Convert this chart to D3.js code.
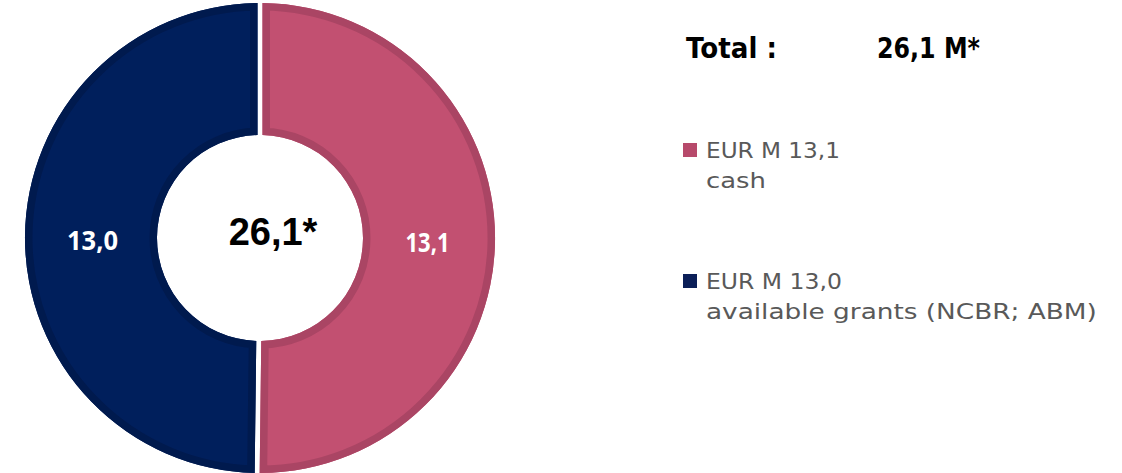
<!DOCTYPE html>
<html>
<head>
<meta charset="utf-8">
<script src="https://cdn.jsdelivr.net/npm/d3@7"></script>
<style>
  html, body { margin: 0; padding: 0; background: #ffffff; }
  svg { display: block; }
</style>
</head>
<body>
<svg id="chart" width="1122" height="473"></svg>
<script>
// Funding split (EUR M)
const categories = ["cash", "available grants (NCBR; ABM)"];
const values = [13.1, 13.0];
const valueLabels = ["13,1", "13,0"];
const legendHeads = ["EUR M 13,1", "EUR M 13,0"];
const totalLabel = "26,1*";
const totalHeader = ["Total :", "26,1 M*"];

const fills = ["#C25071", "#001F5C"];
const edges = ["#AA4564", "#001A4E"];
const swatches = ["#B74A6B", "#0B1F58"];

const svg = d3.select("#chart");
const cx = 260, cy = 238;
const outerR = 235, innerR = 103;
const gap = 5;

const pie = d3.pie().sort(null).value(d => d)(values);
const arc = d3.arc()
  .innerRadius(innerR)
  .outerRadius(outerR)
  .padRadius(outerR)
  .padAngle(gap / outerR);

const defs = svg.append("defs");
const g = svg.append("g").attr("transform", `translate(${cx},${cy})`);

pie.forEach((p, i) => {
  defs.append("clipPath").attr("id", "slice-clip-" + i)
    .append("path").attr("d", arc(p));
  const slice = g.append("g");
  slice.append("path")
    .attr("d", arc(p))
    .attr("fill", fills[i]);
  // darker rim drawn inside each slice
  slice.append("path")
    .attr("d", arc(p))
    .attr("fill", "none")
    .attr("stroke", edges[i])
    .attr("stroke-width", 15)
    .attr("clip-path", `url(#slice-clip-${i})`);
});

// place a text element at (x, y), stretched horizontally to a given width
function placeText(sel, x, y, target) {
  const len = sel.node().getComputedTextLength();
  const s = target / len;
  sel.attr("x", 0).attr("y", 0)
    .attr("transform", `translate(${x},${y}) scale(${s},1)`);
}

// value labels at slice centroids
const labelArc = d3.arc().innerRadius(innerR).outerRadius(outerR - 3);
const labelWidths = [44, 51];
g.selectAll("text.val")
  .data(pie)
  .join("text")
  .attr("class", "val")
  .attr("text-anchor", "middle")
  .attr("font-family", "'Open Sans', sans-serif")
  .attr("font-weight", 700)
  .attr("font-size", 27)
  .attr("fill", "#ffffff")
  .text((d, i) => valueLabels[i])
  .each(function (d, i) {
    const [x, y] = labelArc.centroid(d);
    placeText(d3.select(this), x, y + 13, labelWidths[i]);
  });

// total in the hole
g.append("text")
  .attr("x", 13)
  .attr("y", 7)
  .attr("text-anchor", "middle")
  .attr("font-family", "'Liberation Sans', Arial, sans-serif")
  .attr("font-weight", 700)
  .attr("font-size", 38)
  .attr("fill", "#000000")
  .text(totalLabel);

// header line
const head = svg.append("g");
const headX = [686, 877];
const headW = [91, 103];
totalHeader.forEach((t, i) => {
  const el = head.append("text")
    .attr("font-family", "'DejaVu Sans', sans-serif")
    .attr("font-weight", 700)
    .attr("font-size", 27.5)
    .attr("fill", "#000000")
    .text(t);
  placeText(el, headX[i], 58, headW[i]);
});

// legend
const legendY = [143, 274];
const legendWidths = [[134, 60], [136, 391]];
categories.forEach((c, i) => {
  const lg = svg.append("g").attr("transform", `translate(683,${legendY[i]})`);
  lg.append("rect")
    .attr("x", 0).attr("y", 0)
    .attr("width", 14).attr("height", 14)
    .attr("fill", swatches[i]);
  const a = lg.append("text")
    .attr("font-family", "'DejaVu Sans', sans-serif")
    .attr("font-size", 20.5)
    .attr("fill", "#595959")
    .text(legendHeads[i]);
  placeText(a, 23, 14.5, legendWidths[i][0]);
  const b = lg.append("text")
    .attr("font-family", "'DejaVu Sans', sans-serif")
    .attr("font-size", 20.5)
    .attr("fill", "#595959")
    .text(c);
  placeText(b, 23, 45, legendWidths[i][1]);
});
</script>
</body>
</html>
